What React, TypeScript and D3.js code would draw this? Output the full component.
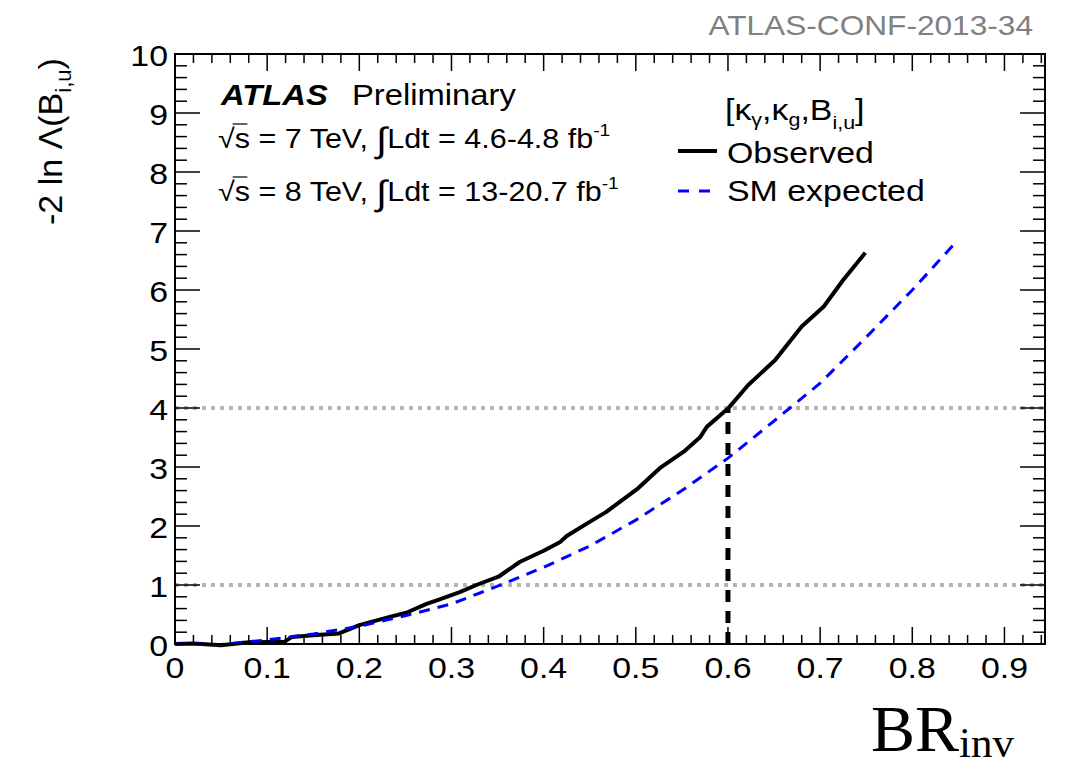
import React from "react";
import * as d3 from "d3";

const obsX = [0, 0.02, 0.05, 0.08, 0.119, 0.127, 0.15, 0.178, 0.2, 0.233, 0.251, 0.273, 0.288, 0.309, 0.327, 0.351, 0.374, 0.4, 0.418, 0.425, 0.45, 0.468, 0.501, 0.526, 0.552, 0.57, 0.577, 0.6, 0.622, 0.651, 0.68, 0.704, 0.725, 0.749];
const obsY = [0, 0.01, -0.02, 0.03, 0.04, 0.12, 0.15, 0.18, 0.32, 0.46, 0.53, 0.68, 0.76, 0.88, 1.0, 1.14, 1.39, 1.58, 1.73, 1.83, 2.07, 2.24, 2.62, 2.98, 3.26, 3.51, 3.68, 3.99, 4.39, 4.81, 5.38, 5.72, 6.17, 6.63];
const expX = [0, 0.02, 0.05, 0.1, 0.12, 0.15, 0.2, 0.25, 0.3, 0.35, 0.4, 0.45, 0.5, 0.55, 0.6, 0.65, 0.7, 0.75, 0.8, 0.845];
const expY = [0, 0.0, -0.01, 0.07, 0.11, 0.17, 0.3, 0.48, 0.68, 0.98, 1.3, 1.66, 2.1, 2.6, 3.15, 3.78, 4.42, 5.2, 6.0, 6.77];
const xTickLabels = ["0", "0.1", "0.2", "0.3", "0.4", "0.5", "0.6", "0.7", "0.8", "0.9"];
const yTickLabels = ["0", "1", "2", "3", "4", "5", "6", "7", "8", "9", "10"];
const refLevels = [1, 4];
const limitX = 0.6;
const limitY = 4;

const SANS = "'Liberation Sans', Arial, Helvetica, sans-serif";
const SX = 1.13;

export default function App() {
  const L = 175, R = 1045, T = 54, B = 644;
  const x = d3.scaleLinear().domain([0, 0.944]).range([L, R]);
  const y = d3.scaleLinear().domain([0, 10]).range([B, T]);
  const line = d3.line<[number, number]>().x(d => x(d[0])).y(d => y(d[1]));
  const obs = line(obsX.map((v, i) => [v, obsY[i]] as [number, number])) || "";
  const exp = line(expX.map((v, i) => [v, expY[i]] as [number, number])) || "";

  const xMinor = d3.range(0, 0.9441, 0.02);
  const yMinor = d3.range(0, 10.001, 0.2);

  return (
    <svg width={1065} height={769} style={{ position: "absolute", left: 0, top: 0, background: "#fff" }} fontFamily={SANS}>
      <rect x={0} y={0} width={1065} height={769} fill="#fff" />
      {/* title */}
      <text transform={`translate(1033,35) scale(${SX},1)`} textAnchor="end" fontSize={28} fill="#808080">ATLAS-CONF-2013-34</text>

      {/* ref lines */}
      {refLevels.map(r => (
        <line key={r} x1={L} x2={R} y1={y(r)} y2={y(r)} stroke="#b4b4b4" strokeWidth={4} strokeDasharray="4,5" />
      ))}

      {/* curves */}
      <path d={obs} fill="none" stroke="#000" strokeWidth={4} strokeLinejoin="round" />
      <path d={exp} fill="none" stroke="#0000ff" strokeWidth={3} strokeDasharray="11,8" />
      <line x1={x(limitX)} x2={x(limitX)} y1={y(0)} y2={y(limitY)} stroke="#000" strokeWidth={5} strokeDasharray="12,9" />

      {/* frame */}
      <rect x={L} y={T} width={R - L} height={B - T} fill="none" stroke="#000" strokeWidth={2} />
      {xMinor.map((v, i) => {
        const major = Math.abs(v * 10 - Math.round(v * 10)) < 1e-6;
        const len = major ? 17 : 9;
        return (
          <g key={"xt" + i}>
            <line x1={x(v)} x2={x(v)} y1={B} y2={B - len} stroke="#000" strokeWidth={1.5} />
            <line x1={x(v)} x2={x(v)} y1={T} y2={T + len} stroke="#000" strokeWidth={1.5} />
          </g>
        );
      })}
      {yMinor.map((v, i) => {
        const major = Math.abs(v - Math.round(v)) < 1e-6;
        const len = major ? 25 : 12;
        return (
          <g key={"yt" + i}>
            <line x1={L} x2={L + len} y1={y(v)} y2={y(v)} stroke="#000" strokeWidth={1.5} />
            <line x1={R} x2={R - len} y1={y(v)} y2={y(v)} stroke="#000" strokeWidth={1.5} />
          </g>
        );
      })}
      {xTickLabels.map((t, i) => (
        <text key={"xl" + t} transform={`translate(${x(i / 10)},678) scale(${SX},1)`} textAnchor="middle" fontSize={30}>{t}</text>
      ))}
      {yTickLabels.map((t, i) => (
        <text key={"yl" + t} transform={`translate(168,${y(i) + 12}) scale(${SX},1)`} textAnchor="end" fontSize={30}>{t}</text>
      ))}

      {/* axis titles */}
      <text transform="translate(62,225) rotate(-90)" fontSize={34}>
        -2 ln Λ(B<tspan fontSize={22} dy={9}>i,u</tspan><tspan dy={-9}>)</tspan>
      </text>
      <text x={871} y={751} fontFamily="'Liberation Serif', 'Times New Roman', serif" fontSize={66}>
        BR<tspan fontSize={43} dy={6}>inv</tspan>
      </text>

      {/* ATLAS label */}
      <text transform={`translate(221,105) scale(${SX},1)`} fontSize={29} fontWeight="bold" fontStyle="italic">ATLAS</text>
      <text transform={`translate(352,105) scale(${SX},1)`} fontSize={29}>Preliminary</text>
      {[
        { b: 148, e: "7", lumi: "4.6-4.8" },
        { b: 201, e: "8", lumi: "13-20.7" },
      ].map(r => (
        <g key={r.e} transform={`translate(218,${r.b}) scale(${SX},1)`}>
          <text x={0} y={0} fontSize={27}>
            √s = {r.e} TeV, <tspan fontSize={35} dy={4}>∫</tspan><tspan dy={-4}>Ldt = {r.lumi} fb</tspan><tspan fontSize={17} dy={-12}>-1</tspan>
          </text>
          <line x1={13} x2={26} y1={-24} y2={-24} stroke="#000" strokeWidth={1.2} />
        </g>
      ))}

      {/* legend */}
      <text transform={`translate(725,120) scale(${SX},1)`} fontSize={30}>
        [κ<tspan fontSize={19} dy={6}>γ</tspan><tspan dy={-6}>,κ</tspan><tspan fontSize={19} dy={6}>g</tspan><tspan dy={-6}>,B</tspan><tspan fontSize={19} dy={9}>i,u</tspan><tspan dy={-9}>]</tspan>
      </text>
      <line x1={678} x2={717} y1={151} y2={151} stroke="#000" strokeWidth={4} />
      <text transform={`translate(727,163) scale(${SX},1)`} fontSize={30}>Observed</text>
      <line x1={678} x2={710} y1={191} y2={191} stroke="#0000ff" strokeWidth={3} strokeDasharray="11,10" />
      <text transform={`translate(727,201) scale(${SX},1)`} fontSize={30}>SM expected</text>
    </svg>
  );
}
